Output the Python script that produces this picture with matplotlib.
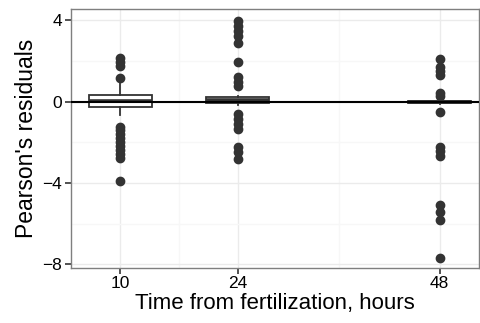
import matplotlib
matplotlib.use('Agg')
import matplotlib.pyplot as plt

plt.rcParams['font.family'] = ['Liberation Sans', 'DejaVu Sans']

# residual summaries per sampling time
hours = [10, 24, 48]
q1 = [-0.25, -0.05, -0.05]
med = [0.03, 0.08, 0.0]
q3 = [0.33, 0.22, 0.05]
whislo = [-0.65, -0.15, -0.1]
whishi = [0.98, 0.3, 0.1]
outliers_10 = [2.14, 1.97, 1.77, 1.18, -1.23, -1.42, -1.61, -1.81, -2.0,
               -2.2, -2.4, -2.6, -2.79, -3.89]
outliers_24 = [3.98, 3.73, 3.5, 3.25, 2.88, 1.97, 1.23, 0.99, 0.77, -0.61,
               -0.87, -1.11, -1.34, -2.22, -2.46, -2.84]
outliers_48 = [2.09, 1.69, 1.53, 1.31, 0.41, 0.28, -0.49, -2.22, -2.43,
               -2.67, -5.09, -5.42, -5.83, -7.71]
outliers = [outliers_10, outliers_24, outliers_48]

yticks = [4, 0, -4, -8]
yminor = [2, -2, -6]
xminor = [17, 36]

stats = []
for i in range(len(hours)):
    stats.append(dict(med=med[i], q1=q1[i], q3=q3[i], whislo=whislo[i],
                      whishi=whishi[i], fliers=outliers[i]))

fig = plt.figure(figsize=(4.81, 3.23), dpi=100)
ax = fig.add_axes([0.147, 0.170, 0.849, 0.801])

dark = '#333333'
ax.bxp(stats, positions=hours, widths=7.5, showcaps=False, patch_artist=True,
       boxprops=dict(facecolor='white', edgecolor=dark, linewidth=1.3),
       whiskerprops=dict(color=dark, linewidth=1.3),
       medianprops=dict(color=dark, linewidth=2.6),
       flierprops=dict(marker='o', markerfacecolor=dark, markeredgecolor=dark,
                       markersize=6, linestyle='none'),
       manage_ticks=False, zorder=3)

ax.axhline(0, color='black', linewidth=1.5, zorder=4)

ax.set_xlim(4.1, 52.7)
ax.set_ylim(-8.19, 4.54)
ax.set_xticks(hours)
ax.set_xticklabels([str(h) for h in hours])
ax.set_yticks(yticks)
ax.set_yticklabels(['4', '0', '\u22124', '\u22128'])
ax.set_xticks(xminor, minor=True)
ax.set_yticks(yminor, minor=True)

ax.grid(which='major', color='#ebebeb', linewidth=1.0, zorder=0)
ax.grid(which='minor', color='#f7f7f7', linewidth=1.0, zorder=0)
ax.set_axisbelow(True)

for s in ax.spines.values():
    s.set_color('#7f7f7f')
    s.set_linewidth(1.0)

ax.tick_params(which='major', length=4, width=1.2, color=dark,
               labelsize=12.5, labelcolor='black', pad=2)
ax.tick_params(which='minor', length=0)

ax.set_xlabel('Time from fertilization, hours', fontsize=16, labelpad=1)
ax.set_ylabel("Pearson's residuals", fontsize=16.5, labelpad=3)

fig.savefig('out.png', dpi=100)
